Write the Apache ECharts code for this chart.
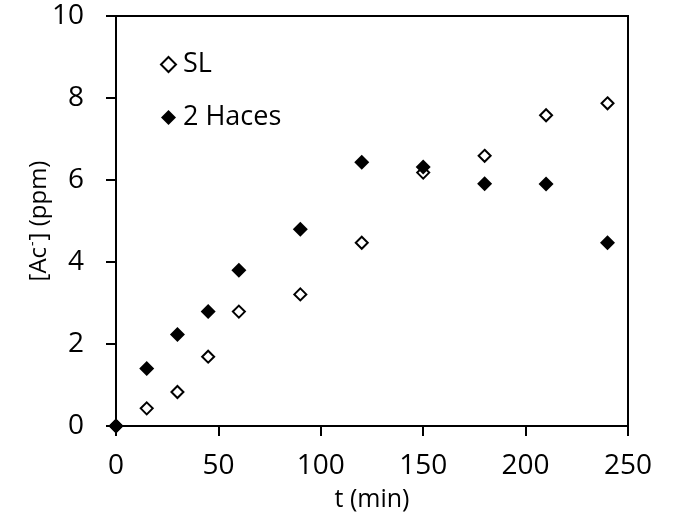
<!DOCTYPE html>
<html><head><meta charset="utf-8">
<script src="https://cdn.jsdelivr.net/npm/echarts@6/dist/echarts.min.js"></script>
<style>html,body{margin:0;padding:0;background:#fff}#c{width:682px;height:518px}</style>
</head><body><div id="c"></div>
<script>
var times = [0, 15, 30, 45, 60, 90, 120, 150, 180, 210, 240];
var slValues = [0, 0.43, 0.83, 1.69, 2.79, 3.21, 4.47, 6.18, 6.59, 7.58, 7.87];
var hacesValues = [0, 1.40, 2.23, 2.79, 3.80, 4.80, 6.43, 6.32, 5.91, 5.90, 4.47];
var seriesNames = ['SL', '2 Haces'];

function pairs(xs, ys){ return xs.map(function(x,i){ return [x, ys[i]]; }); }
var FONT = 'Open Sans';
var chart = echarts.init(document.getElementById('c'), null, {renderer:'canvas'});
chart.setOption({
  animation:false,
  backgroundColor:'#fff',
  grid:{left:116, right:54, top:16, bottom:92, show:true, borderColor:'#000', borderWidth:2, backgroundColor:'transparent',
        containLabel:false, outerBoundsMode:'none'},
  legend:{
    orient:'vertical', left:155, top:46, itemWidth:15, itemHeight:15, itemGap:26,
    data:seriesNames,
    textStyle:{fontFamily:FONT, fontSize:27, color:'#000', padding:[0,0,0,2]}
  },
  xAxis:{
    type:'value', min:0, max:250, interval:50,
    name:'t (min)', nameLocation:'middle', nameGap:61, nameMoveOverlap:false,
    nameTextStyle:{fontFamily:FONT, fontSize:25, color:'#000'},
    axisLine:{show:true, onZero:false, lineStyle:{color:'#000', width:2}},
    axisTick:{show:true, inside:false, length:10, lineStyle:{color:'#000', width:2}},
    axisLabel:{fontFamily:FONT, fontSize:28, color:'#000', margin:26},
    splitLine:{show:false}
  },
  yAxis:{
    type:'value', min:0, max:10, interval:2,
    name:'[Ac{sup|-}] (ppm)', nameLocation:'middle', nameGap:64, nameMoveOverlap:false,
    nameTextStyle:{fontFamily:FONT, fontSize:24, color:'#000',
      rich:{sup:{fontFamily:FONT, fontSize:14, color:'#000', verticalAlign:'top', padding:[0,1,12,1]}}},
    axisLine:{show:true, onZero:false, lineStyle:{color:'#000', width:2}},
    axisTick:{show:true, inside:false, length:10, lineStyle:{color:'#000', width:2}},
    axisLabel:{fontFamily:FONT, fontSize:28, color:'#000', margin:32},
    splitLine:{show:false}
  },
  series:[
    {name:seriesNames[0], type:'scatter', symbol:'diamond', symbolSize:12,
     itemStyle:{color:'#fff', borderColor:'#000', borderWidth:2, opacity:1},
     data:pairs(times, slValues)},
    {name:seriesNames[1], type:'scatter', symbol:'diamond', symbolSize:15,
     itemStyle:{color:'#000', borderColor:'#000', borderWidth:0, opacity:1},
     data:pairs(times, hacesValues)}
  ]
});
</script></body></html>
